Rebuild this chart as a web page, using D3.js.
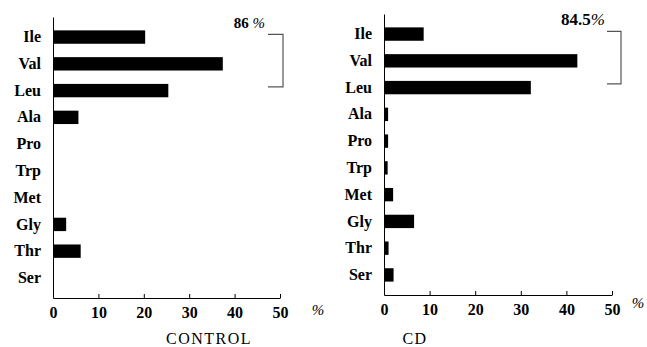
<!DOCTYPE html>
<html>
<head>
<meta charset="utf-8">
<script src="https://cdn.jsdelivr.net/npm/d3@7"></script>
<style>
  body { margin: 0; background: #fff; }
  svg, svg text { font-family: "Liberation Serif", "Times New Roman", serif; }
  svg { display: block; }
</style>
</head>
<body>
<div id="chart"></div>
<script>
// amino acids, top to bottom
var aminoAcids = ["Ile", "Val", "Leu", "Ala", "Pro", "Trp", "Met", "Gly", "Thr", "Ser"];

// % of each amino acid
var controlValues = [20.3, 37.4, 25.4, 5.6, 0, 0, 0, 2.9, 6.1, 0];
var cdValues = [8.7, 42.4, 32.2, 0.9, 0.9, 0.8, 2.0, 6.6, 1.0, 2.1];

// sum of Ile + Val + Leu
var bcaaTotals = [86, 84.5];

var panelNames = ["CONTROL", "CD"];
var xTicks = [0, 10, 20, 30, 40, 50];

// svg container
var svgWidth = 647;
var svgHeight = 347;

var svg = d3.select("#chart")
  .append("svg")
  .attr("width", svgWidth)
  .attr("height", svgHeight);

// layout of the two panels
var panels = [
  { values: controlValues, total: bcaaTotals[0], name: panelNames[0],
    x: [53, 280], y: [17, 298], nameX: 209, pctX: 318, pctY: 315,
    brLeft: -12, brRight: 3, totalX: -15, totalY: 28, totalSize: 15, space: true },
  { values: cdValues, total: bcaaTotals[1], name: panelNames[1],
    x: [384, 612], y: [14, 295], nameX: 415, pctX: 638, pctY: 308,
    brLeft: -5, brRight: 9, totalX: -7, totalY: 25, totalSize: 17, space: false }
];

panels.forEach(function(p) {
  var g = svg.append("g");

  var xScale = d3.scaleLinear()
    .domain([0, 50])
    .range(p.x);

  var yScale = d3.scaleBand()
    .domain(aminoAcids)
    .range(p.y)
    .padding(0.5);

  // bars
  g.append("g")
    .selectAll("rect")
    .data(p.values)
    .enter()
    .append("rect")
    .attr("x", xScale(0))
    .attr("y", (d, i) => yScale(aminoAcids[i]))
    .attr("width", d => xScale(d) - xScale(0))
    .attr("height", yScale.bandwidth())
    .attr("fill", "#000");

  // x axis, ticks pointing up
  var xAxis = g.append("g")
    .attr("transform", `translate(0, ${p.y[1]})`)
    .call(d3.axisBottom(xScale)
      .tickValues(xTicks)
      .tickSizeInner(-4)
      .tickSizeOuter(0)
      .tickPadding(9))
    .attr("font-family", null)
    .attr("font-size", null);
  xAxis.selectAll("text")
    .style("font-size", "16px")
    .style("font-weight", "bold")
    .attr("fill", "#000");
  xAxis.select(".domain").attr("stroke", "#000");

  // y axis
  var yAxis = g.append("g")
    .attr("transform", `translate(${xScale(0)}, 0)`)
    .call(d3.axisLeft(yScale).tickSize(0).tickPadding(12))
    .attr("font-family", null)
    .attr("font-size", null);
  yAxis.selectAll("text")
    .style("font-size", "16px")
    .style("font-weight", "bold")
    .attr("fill", "#000");
  yAxis.select(".domain").attr("stroke", "#000");

  // % unit
  g.append("text")
    .attr("x", p.pctX)
    .attr("y", p.pctY)
    .attr("text-anchor", "middle")
    .style("font-size", "15px")
    .style("font-style", "italic")
    .text("%");

  // panel name
  g.append("text")
    .attr("x", p.nameX)
    .attr("y", 344)
    .attr("text-anchor", "middle")
    .style("font-size", "16px")
    .attr("letter-spacing", "1.5px")
    .text(p.name);

  // bracket around Ile, Val, Leu
  var top = yScale("Ile") + 4;
  var bottom = yScale("Leu") + 3;
  var x50 = xScale(50);
  g.append("path")
    .attr("d", `M${x50 + p.brLeft},${top}H${x50 + p.brRight}V${bottom}H${x50 + p.brLeft}`)
    .attr("fill", "none")
    .attr("stroke", "#555")
    .attr("stroke-width", 1.2);

  var total = g.append("text")
    .attr("x", x50 + p.totalX)
    .attr("y", p.totalY)
    .attr("text-anchor", "end")
    .style("font-size", p.totalSize + "px");
  total.append("tspan")
    .style("font-weight", "bold")
    .text(p.total + (p.space ? " " : ""));
  total.append("tspan")
    .style("font-style", "italic")
    .text("%");
});
</script>
</body>
</html>
